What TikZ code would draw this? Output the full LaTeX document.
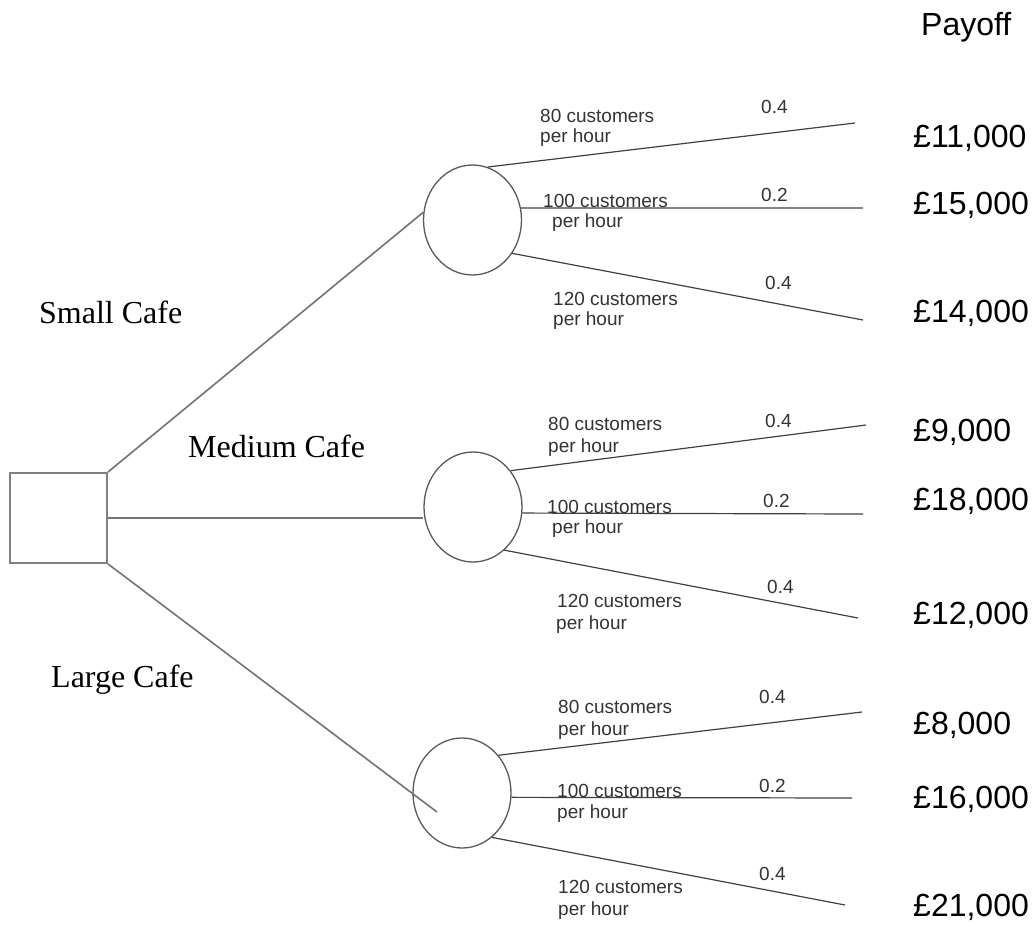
\documentclass[tikz,border=0pt]{standalone}
\usepackage{fontspec}
\setmainfont{Liberation Serif}
\newfontfamily\arialf{Liberation Sans}
\usetikzlibrary{shapes.geometric}
\begin{document}
\begin{tikzpicture}[x=1pt,y=-1pt,
  chance/.style={ellipse,draw=black!65,line width=1.3pt,minimum width=98pt,minimum height=110pt,inner sep=0pt},
  decision/.style={rectangle,draw=black!50,line width=1.8pt,minimum width=97pt,minimum height=90pt,inner sep=0pt},
  branch/.style={draw=black!75,line width=1.2pt},
  option/.style={draw=black!55,line width=1.6pt},
  optlabel/.style={font=\fontsize{32}{36}\selectfont,anchor=base west,inner sep=0pt},
  evlabel/.style={font=\arialf\fontsize{19}{21}\selectfont,anchor=base west,inner sep=0pt,text=black!80},
  pay/.style={font=\arialf\fontsize{32}{36}\selectfont,anchor=base west,inner sep=0pt}]
\useasboundingbox (0,0) rectangle (1035,926);

% nodes
\node[decision] (d) at (58.5,518) {};
\node[chance] (c1) at (472.5,220) {};
\node[chance] (c2) at (473,507) {};
\node[chance] (c3) at (462,793) {};

% free ends
\coordinate (e11) at (855,123);
\coordinate (e12) at (863,208);
\coordinate (e13) at (863,320);
\coordinate (e21) at (866,425);
\coordinate (e22) at (863,514);
\coordinate (e23) at (858,618);
\coordinate (e31) at (862,712);
\coordinate (e32) at (852,798);
\coordinate (e33) at (845,905);
\coordinate (lc) at (437,812);

% option lines
\draw[option] (d.north east) -- (c1.171);
\draw[option] (d.east) -- (c2.west |- d.east);
\draw[option] (d.south east) -- (lc);

% event branches
\draw[branch] (c1.74) -- (e11);
\draw[branch] (c1.14) -- (e12);
\draw[branch] (c1.-40) -- (e13);
\draw[branch] (c2.44) -- (e21);
\draw[branch] (c2.-7) -- (e22);
\draw[branch] (c2.-54) -- (e23);
\draw[branch] (c3.46) -- (e31);
\draw[branch] (c3.-5) -- (e32);
\draw[branch] (c3.-56) -- (e33);

% option labels
\node[optlabel] (ls) at (39,323) {Small Cafe};
\node[optlabel] (lm) at (188,457) {Medium Cafe};
\node[optlabel] (ll) at (51,687) {Large Cafe};

% event labels, small cafe
\node[evlabel] (a1) at (540,122) {80 customers};
\node[evlabel] (a1b) at (540,142) {per hour};
\node[evlabel] (a2) at (543,207) {100 customers};
\node[evlabel] (a2b) at (552,227) {per hour};
\node[evlabel] (a3) at (553,305) {120 customers};
\node[evlabel] (a3b) at (553,325) {per hour};
\node[evlabel] (p11) at (761,113) {0.4};
\node[evlabel] (p12) at (761,201) {0.2};
\node[evlabel] (p13) at (765,289) {0.4};

% event labels, medium cafe
\node[evlabel] (b1) at (548,430) {80 customers};
\node[evlabel] (b1b) at (548,452) {per hour};
\node[evlabel] (b2) at (547,513) {100 customers};
\node[evlabel] (b2b) at (552,533) {per hour};
\node[evlabel] (b3) at (557,607) {120 customers};
\node[evlabel] (b3b) at (556,629) {per hour};
\node[evlabel] (p21) at (765,427) {0.4};
\node[evlabel] (p22) at (763,507) {0.2};
\node[evlabel] (p23) at (767,593) {0.4};

% event labels, large cafe
\node[evlabel] (g1) at (558,713) {80 customers};
\node[evlabel] (g1b) at (558,735) {per hour};
\node[evlabel] (g2) at (557,797) {100 customers};
\node[evlabel] (g2b) at (557,818) {per hour};
\node[evlabel] (g3) at (558,893) {120 customers};
\node[evlabel] (g3b) at (558,915) {per hour};
\node[evlabel] (p31) at (759,703) {0.4};
\node[evlabel] (p32) at (759,792) {0.2};
\node[evlabel] (p33) at (759,880) {0.4};

% payoffs
\node[pay] (ph) at (921,35) {Payoff};
\node[pay] (v11) at (913,147) {£11,000};
\node[pay] (v12) at (913,214) {£15,000};
\node[pay] (v13) at (913,322) {£14,000};
\node[pay] (v21) at (913,441) {£9,000};
\node[pay] (v22) at (913,510) {£18,000};
\node[pay] (v23) at (913,624) {£12,000};
\node[pay] (v31) at (913,734) {£8,000};
\node[pay] (v32) at (913,808) {£16,000};
\node[pay] (v33) at (913,916) {£21,000};
\end{tikzpicture}
\end{document}
